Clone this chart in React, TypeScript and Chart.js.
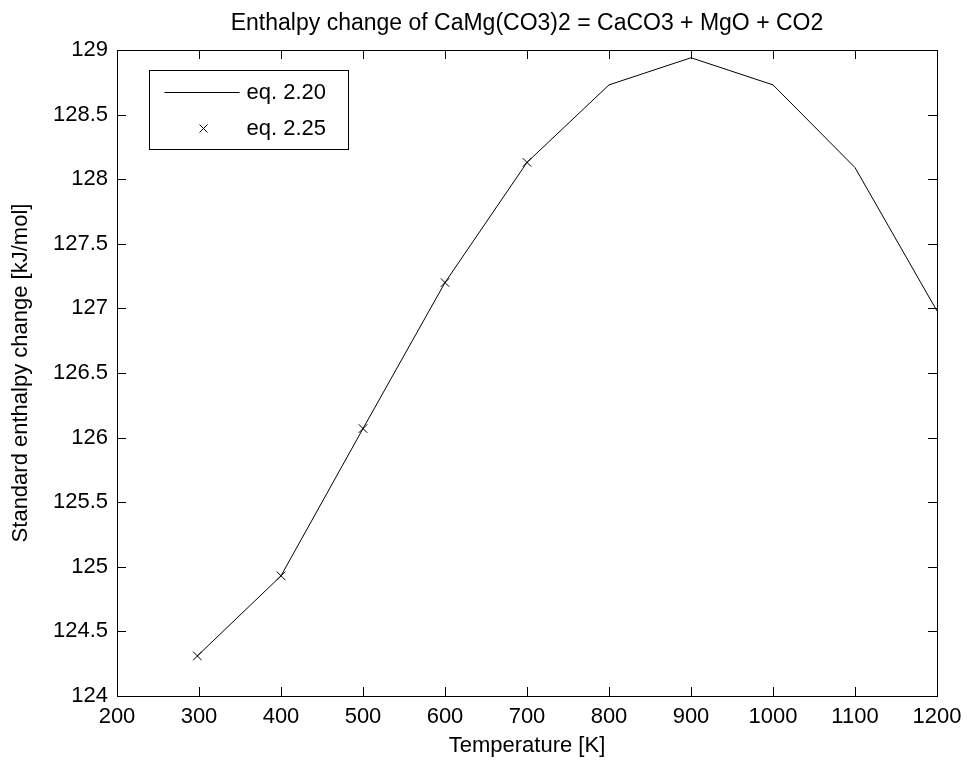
import React, { useEffect, useRef } from "react";
import { Chart, registerables } from "chart.js";

Chart.register(...registerables);

const chartTitle = "Enthalpy change of CaMg(CO3)2 = CaCO3 + MgO + CO2";
const xAxisTitle = "Temperature [K]";
const yAxisTitle = "Standard enthalpy change [kJ/mol]";
const seriesLabels = ["eq. 2.20", "eq. 2.25"];

const temperatures = [298, 400, 500, 600, 700, 800, 900, 1000, 1100, 1200];
const enthalpyEq220 = [124.31, 124.93, 126.07, 127.2, 128.13, 128.73, 128.94, 128.73, 128.09, 126.98];

const markerTemps = [298, 400, 500, 600, 700];
const enthalpyEq225 = [124.31, 124.93, 126.07, 127.2, 128.13];

const xTicks = [200, 300, 400, 500, 600, 700, 800, 900, 1000, 1100, 1200];
const yTicks = [124, 124.5, 125, 125.5, 126, 126.5, 127, 127.5, 128, 128.5, 129];

const FONT = "'Liberation Sans', Arial, Helvetica, sans-serif";
const FS = 22;

const framePlugin = {
  id: "matlabFrame",
  afterDraw(chart: any) {
    const ctx: CanvasRenderingContext2D = chart.ctx;
    const ca = chart.chartArea;
    const left = Math.round(ca.left);
    const right = Math.round(ca.right);
    const top = Math.round(ca.top);
    const bottom = Math.round(ca.bottom);
    const xs = chart.scales.x;
    const ys = chart.scales.y;
    ctx.save();
    ctx.strokeStyle = "#000";
    ctx.lineWidth = 1;
    ctx.strokeRect(left + 0.5, top + 0.5, right - left, bottom - top);

    const tl = 9;
    for (const v of xTicks) {
      const px = Math.round(xs.getPixelForValue(v)) + 0.5;
      ctx.beginPath();
      ctx.moveTo(px, bottom);
      ctx.lineTo(px, bottom - tl);
      ctx.stroke();
      ctx.beginPath();
      ctx.moveTo(px, top);
      ctx.lineTo(px, top + tl);
      ctx.stroke();
    }
    for (const v of yTicks) {
      const py = Math.round(ys.getPixelForValue(v)) + 0.5;
      ctx.beginPath();
      ctx.moveTo(left, py);
      ctx.lineTo(left + tl, py);
      ctx.stroke();
      ctx.beginPath();
      ctx.moveTo(right, py);
      ctx.lineTo(right - tl, py);
      ctx.stroke();
    }

    // title
    ctx.fillStyle = "#000";
    ctx.font = `${FS + 1}px ${FONT}`;
    ctx.textAlign = "center";
    ctx.textBaseline = "middle";
    ctx.fillText(chartTitle, (left + right) / 2, top - 26);

    // legend
    const bx = left + 32.5;
    const by = top + 20.5;
    const bw = 199;
    const bh = 79;
    ctx.fillStyle = "#fff";
    ctx.fillRect(bx, by, bw, bh);
    ctx.strokeStyle = "#000";
    ctx.strokeRect(bx, by, bw, bh);
    const row1 = Math.round(by + 21) + 0.5;
    const row2 = Math.round(by + 57) + 0.5;
    ctx.beginPath();
    ctx.moveTo(bx + 15, row1);
    ctx.lineTo(bx + 90, row1);
    ctx.stroke();
    const mx = Math.round(bx + 53) + 0.5;
    const r = 4;
    ctx.beginPath();
    ctx.moveTo(mx - r, row2 - r);
    ctx.lineTo(mx + r, row2 + r);
    ctx.moveTo(mx - r, row2 + r);
    ctx.lineTo(mx + r, row2 - r);
    ctx.stroke();
    ctx.fillStyle = "#000";
    ctx.font = `${FS}px ${FONT}`;
    ctx.textAlign = "left";
    ctx.fillText(seriesLabels[0], bx + 97, row1);
    ctx.fillText(seriesLabels[1], bx + 97, row2);
    ctx.restore();
  },
};

export default function App() {
  const canvasRef = useRef<HTMLCanvasElement | null>(null);

  useEffect(() => {
    document.body.style.margin = "0";
    const canvas = canvasRef.current;
    if (!canvas) return;
    const chart = new Chart(canvas, {
      type: "line",
      data: {
        datasets: [
          {
            label: seriesLabels[0],
            data: temperatures.map((t, i) => ({ x: t, y: enthalpyEq220[i] })),
            borderColor: "#000",
            borderWidth: 1,
            pointRadius: 0,
            fill: false,
            tension: 0,
          },
          {
            label: seriesLabels[1],
            data: markerTemps.map((t, i) => ({ x: t, y: enthalpyEq225[i] })),
            showLine: false,
            borderColor: "#000",
            backgroundColor: "#000",
            pointStyle: "crossRot",
            pointRadius: 6,
            pointBorderWidth: 1,
          },
        ],
      },
      options: {
        responsive: false,
        animation: false,
        devicePixelRatio: 1,
        layout: { padding: { top: 50, right: 30, left: 0, bottom: 0 } },
        plugins: {
          legend: { display: false },
          title: { display: false },
          tooltip: { enabled: false },
        },
        scales: {
          x: {
            type: "linear",
            min: 200,
            max: 1200,
            afterBuildTicks: (scale: any) => {
              scale.ticks = xTicks.map((v) => ({ value: v }));
            },
            afterFit: (scale: any) => {
              scale.height = 71;
              scale.paddingLeft = 0;
              scale.paddingRight = 0;
            },
            grid: { display: false, drawTicks: false },
            border: { display: false },
            ticks: {
              color: "#000",
              padding: 8,
              maxRotation: 0,
              autoSkip: false,
              font: { family: FONT, size: FS },
              callback: (v: any) => String(v),
            },
            title: {
              display: true,
              text: xAxisTitle,
              color: "#000",
              padding: { top: 0, bottom: 8 },
              font: { family: FONT, size: FS },
            },
          },
          y: {
            type: "linear",
            min: 124,
            max: 129,
            afterBuildTicks: (scale: any) => {
              scale.ticks = yTicks.map((v) => ({ value: v }));
            },
            afterFit: (scale: any) => {
              scale.width = 117;
              scale.paddingTop = 0;
              scale.paddingBottom = 0;
            },
            grid: { display: false, drawTicks: false },
            border: { display: false },
            ticks: {
              color: "#000",
              padding: 9,
              autoSkip: false,
              font: { family: FONT, size: FS },
              callback: (v: any) => String(v),
            },
            title: {
              display: true,
              text: yAxisTitle,
              color: "#000",
              padding: { top: 8, bottom: 1 },
              font: { family: FONT, size: FS },
            },
          },
        },
      },
      plugins: [framePlugin],
    });
    return () => chart.destroy();
  }, []);

  return (
    <div style={{ width: 967, height: 767, background: "#fff" }}>
      <canvas ref={canvasRef} width={967} height={767} style={{ display: "block" }} />
    </div>
  );
}
